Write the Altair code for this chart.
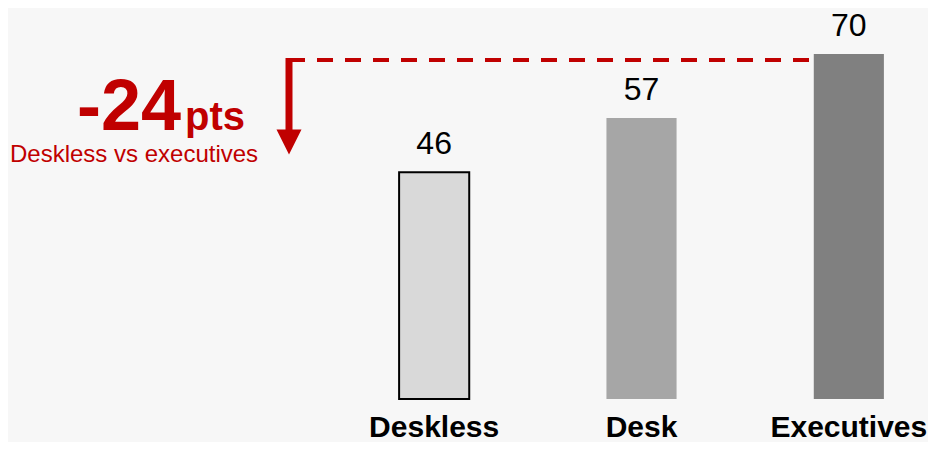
import altair as alt
import pandas as pd

# ---- data ----
categories = ["Deskless", "Desk", "Executives"]
scores = [46, 57, 70]
bar_colors = ["#d9d9d9", "#a6a6a6", "#808080"]
gap_label = "-24"
gap_unit = "pts"
gap_caption = "Deskless vs executives"

df = pd.DataFrame({"category": categories, "score": scores})
ann = pd.DataFrame({"big": [gap_label], "unit": [gap_unit], "cap": [gap_caption]})

FONT = "Liberation Sans"
RED = "#c00000"

x_enc = alt.X(
    "category:N",
    sort=categories,
    scale=alt.Scale(range=[322.5, 944.5], paddingInner=0.6618, paddingOuter=0.3309),
    axis=alt.Axis(
        title=None, domain=False, ticks=False, grid=False, labelAngle=0,
        labelFont=FONT, labelFontSize=30, labelFontWeight="bold", labelColor="#000000",
        labelPadding=37, labelBaseline="alphabetic",
    ),
)
y_enc = alt.Y(
    "score:Q",
    scale=alt.Scale(domain=[0, 79.33], nice=False, zero=True),
    axis=None,
)

base = alt.Chart(df)

bars = base.mark_bar().encode(
    x=x_enc,
    y=y_enc,
    color=alt.Color("category:N", scale=alt.Scale(domain=categories, range=bar_colors), legend=None),
    stroke=alt.condition(alt.datum.category == "Deskless", alt.value("#000000"), alt.value("transparent")),
    strokeWidth=alt.condition(alt.datum.category == "Deskless", alt.value(2), alt.value(0)),
)

values = base.mark_text(
    font=FONT, fontSize=32, color="#000000", baseline="alphabetic", dy=-18
).encode(
    x=alt.X("category:N", sort=categories),
    y="score:Q",
    text="score:Q",
)

a = alt.Chart(ann)

dash = a.mark_rule(color=RED, strokeWidth=4, strokeDash=[16, 12]).encode(
    x=alt.value(281), x2=alt.value(806), y=alt.value(52)
)
vline = a.mark_rule(color=RED, strokeWidth=7).encode(
    x=alt.value(281), y=alt.value(50), y2=alt.value(126)
)
head = a.mark_point(
    shape="M-1,-1L1,-1L0,1Z", filled=True, color=RED, opacity=1, size=625, strokeWidth=0
).encode(x=alt.value(281), y=alt.value(134))

big = a.mark_text(font=FONT, fontSize=72, fontWeight="bold", color=RED, align="left", baseline="alphabetic").encode(
    x=alt.value(69), y=alt.value(122), text="big:N"
)
unit = a.mark_text(font=FONT, fontSize=40, fontWeight="bold", color=RED, align="left", baseline="alphabetic").encode(
    x=alt.value(177), y=alt.value(122), text="unit:N"
)
cap = a.mark_text(font=FONT, fontSize=24, color=RED, align="left", baseline="alphabetic").encode(
    x=alt.value(2), y=alt.value(154), text="cap:N"
)

chart = alt.layer(bars, values, dash, vline, head, big, unit, cap).properties(
    width=920,
    height=391,
    autosize=alt.AutoSizeParams(type="none"),
    padding={"left": 0, "top": 0, "right": 0, "bottom": 43},
    background="#f7f7f7",
).configure_view(stroke=None)

chart.save("out.html", embed_options={"renderer": "svg", "actions": False})
